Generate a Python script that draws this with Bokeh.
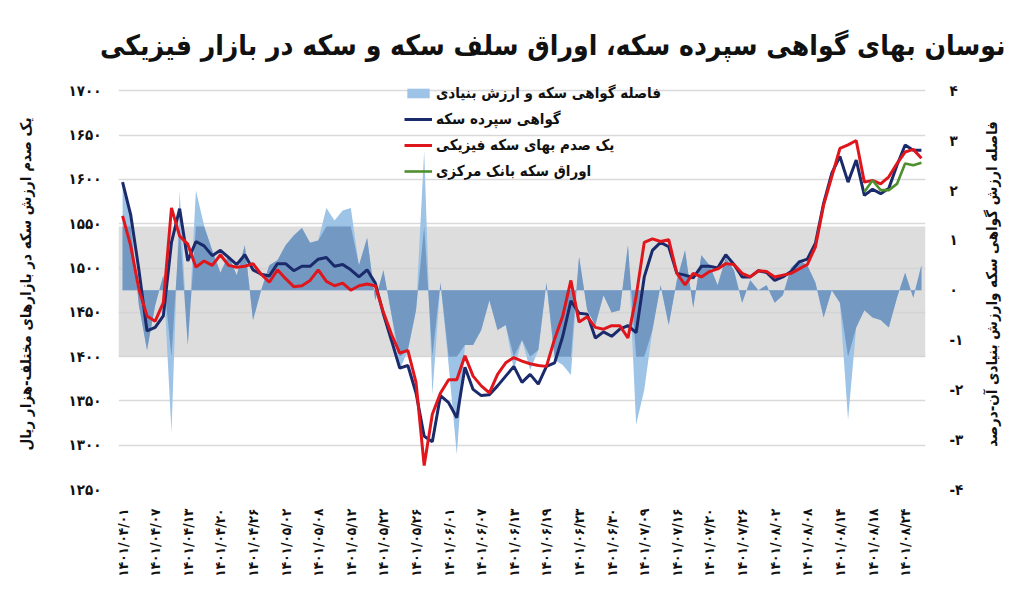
import numpy as np
from bokeh.plotting import figure
from bokeh.models import (Range1d, LinearAxis, FixedTicker, BoxAnnotation, Legend, LegendItem,
                          ColumnDataSource, Label)
from bokeh.layouts import column, row
from bokeh.embed import file_html
from bokeh.resources import INLINE

FA = str.maketrans("0123456789", "۰۱۲۳۴۵۶۷۸۹")
def fa(s):
    return str(s).translate(FA)

title_text = "نوسان بهای گواهی سپرده سکه، اوراق سلف سکه و سکه در بازار فیزیکی"
left_label = "یک صدم ارزش سکه در بازارهای مختلف-هزار ریال"
right_label = "فاصله ارزش گواهی سکه وارزش بنیادی آن-درصد"
series_names = ["فاصله گواهی سکه و ارزش بنیادی", "گواهی سپرده سکه",
                "یک صدم بهای سکه فیزیکی", "اوراق سکه بانک مرکزی"]

date_labels = ["1401/04/01", "1401/04/07", "1401/04/13", "1401/04/20", "1401/04/26",
               "1401/05/02", "1401/05/08", "1401/05/12", "1401/05/22", "1401/05/26",
               "1401/06/01", "1401/06/07", "1401/06/13", "1401/06/19", "1401/06/23",
               "1401/06/30", "1401/07/09", "1401/07/16", "1401/07/20", "1401/07/26",
               "1401/08/02", "1401/08/08", "1401/08/14", "1401/08/18", "1401/08/24"]
label_step = 4

certificate = [1597, 1560, 1498, 1429, 1433, 1446, 1529, 1567, 1508, 1530,
               1525, 1514, 1520, 1512, 1504, 1515, 1498, 1493, 1491, 1505,
               1505, 1497, 1502, 1502, 1510, 1512, 1502, 1504, 1498, 1490,
               1498, 1483, 1448, 1418, 1387, 1390, 1359, 1310, 1304, 1356,
               1348, 1331, 1388, 1363, 1356, 1357, 1367, 1378, 1389, 1371,
               1380, 1369, 1389, 1393, 1423, 1463, 1449, 1448, 1421, 1428,
               1423, 1431, 1435, 1427, 1490, 1520, 1529, 1524, 1494, 1492,
               1489, 1502, 1502, 1500, 1515, 1504, 1490, 1490, 1497, 1495,
               1486, 1490, 1496, 1507, 1510, 1528, 1573, 1607, 1626, 1597,
               1622, 1582, 1589, 1584, 1590, 1616, 1639, 1633, 1633]

physical = [1559, 1525, 1476, 1446, 1440, 1461, 1568, 1536, 1527, 1501,
            1508, 1503, 1515, 1503, 1501, 1502, 1505, 1493, 1484, 1498,
            1488, 1479, 1480, 1486, 1498, 1485, 1480, 1483, 1475, 1480,
            1482, 1480, 1450, 1425, 1404, 1407, 1371, 1277, 1335, 1359,
            1374, 1374, 1401, 1378, 1367, 1359, 1380, 1393, 1399, 1395,
            1392, 1390, 1389, 1420, 1446, 1486, 1439, 1445, 1433, 1431,
            1435, 1435, 1421, 1468, 1529, 1533, 1530, 1532, 1494, 1481,
            1494, 1490, 1496, 1499, 1505, 1504, 1494, 1490, 1497, 1496,
            1490, 1492, 1494, 1499, 1504, 1524, 1571, 1603, 1635, 1639,
            1644, 1597, 1599, 1595, 1603, 1618, 1631, 1634, 1624]

central_bank = [np.nan] * 91 + [1586, 1599, 1588, 1588, 1595, 1618, 1616, 1619]

gap = [2.2, 1.5, -0.3, -1.2, -0.3, 0.3, -2.85, 2.0, -1.1, 2.0,
       1.3, 0.8, 0.35, 0.7, 0.3, 0.9, -0.6, 0.0, 0.5, 0.6,
       0.9, 1.1, 1.25, 0.95, 1.0, 1.65, 1.4, 1.6, 1.65, 0.5,
       1.05, -0.2, 0.4, -0.5, -1.6, -1.2, -0.4, 2.8, -2.1, 0.15,
       -1.5, -3.3, -1.1, -1.1, -0.8, -0.2, -0.8, -0.7, -1.6, -1.0,
       -1.6, -1.2, 0.15, -1.4, -1.5, -1.7, 0.67, -0.4, -0.7, -0.1,
       -0.45, -0.4, 0.9, -2.7, -2.0, -0.8, 0.1, -0.7, 0.2, 0.8,
       -0.35, 0.7, 0.5, 0.1, 0.65, 0.4, -0.25, 0.2, 0.0, 0.1,
       -0.25, -0.1, 0.45, 0.6, 0.5, 0.15, -0.55, 0.0, -0.25, -2.6,
       -0.75, -0.4, -0.55, -0.6, -0.75, -0.15, 0.35, -0.15, 0.5]

left_ticks = [1250, 1300, 1350, 1400, 1450, 1500, 1550, 1600, 1650, 1700]
right_ticks = [-4, -3, -2, -1, 0, 1, 2, 3, 4]
band_bottom, band_top = 1400, 1547   # grey watermark band (left-axis units)

n = len(certificate)
x = list(range(n))
L0, L1 = 1250, 1700          # left axis span that matches right axis -4..4
R0, R1 = -4, 4
L_top = 1714                 # head-room above the 1700 line for the legend

def left_to_right(v):
    return R0 + (v - L0) * (R1 - R0) / (L1 - L0)

lo, hi = left_to_right(band_bottom), left_to_right(band_top)

src = ColumnDataSource(dict(x=x, cert=certificate, phys=physical, cb=central_bank,
                            gap=gap, zero=[0] * n,
                            gap_band=list(np.clip(np.array(gap), lo, hi))))

FONT = "'DejaVu Sans Condensed', 'DejaVu Sans'"
TOTAL_W, TITLE_H, MAIN_H, SIDE_W = 1008, 78, 511, 40

# ---------- title strip ----------
tf = figure(width=TOTAL_W, height=TITLE_H, x_range=Range1d(0, TOTAL_W), y_range=Range1d(0, TITLE_H),
            output_backend="svg", toolbar_location=None, title=None,
            x_axis_location=None, y_axis_location=None,
            min_border_left=0, min_border_right=0, min_border_top=0, min_border_bottom=0)
tf.outline_line_color = None
tf.xgrid.grid_line_color = None
tf.ygrid.grid_line_color = None
tf.add_layout(Label(x=TOTAL_W - 3, y=TITLE_H - 45, text=title_text, text_align="right",
                    text_baseline="middle", text_font=FONT, text_font_size="28px",
                    text_font_style="bold", text_color="#111111"))

# ---------- main plot ----------
p = figure(width=TOTAL_W - SIDE_W, height=MAIN_H, x_range=Range1d(-0.5, n - 0.5),
           y_range=Range1d(L0, L_top), output_backend="svg", toolbar_location=None, title=None,
           min_border_left=118, min_border_right=TOTAL_W - SIDE_W - 925,
           min_border_top=0, min_border_bottom=100)
p.extra_y_ranges = {"gap": Range1d(R0, left_to_right(L_top))}
p.outline_line_color = None
p.background_fill_color = "white"
p.border_fill_color = "white"

p.xgrid.grid_line_color = None
p.ygrid.grid_line_color = "#d9d9d9"
p.ygrid.grid_line_width = 1.3
p.ygrid.ticker = FixedTicker(ticks=left_ticks)

band = BoxAnnotation(bottom=band_bottom, top=band_top, fill_color="#d2d2d2", fill_alpha=0.75,
                     line_color=None, level="underlay")
p.add_layout(band)

r_area = p.varea(x="x", y1="zero", y2="gap", source=src, y_range_name="gap",
                 fill_color="#9dc3e6", fill_alpha=1.0)
p.varea(x="x", y1="zero", y2="gap_band", source=src, y_range_name="gap",
        fill_color="#7398c2", fill_alpha=1.0)
r_cert = p.line(x="x", y="cert", source=src, line_color="#1b2a6b", line_width=3)
r_phys = p.line(x="x", y="phys", source=src, line_color="#e0161d", line_width=3)
r_cb = p.line(x="x", y="cb", source=src, line_color="#4e8f2e", line_width=2.6)

xa = p.xaxis[0]
xa.ticker = FixedTicker(ticks=[i * label_step for i in range(len(date_labels))])
xa.major_label_overrides = {i * label_step: fa(d) for i, d in enumerate(date_labels)}
xa.major_label_orientation = np.pi / 2
xa.major_label_text_font = FONT
xa.major_label_text_font_size = "13.5px"
xa.major_label_text_font_style = "bold"
xa.major_label_text_color = "#111111"
xa.major_label_standoff = 13
xa.axis_line_color = None
xa.major_tick_line_color = None
xa.minor_tick_line_color = None

ya = p.yaxis[0]
ya.ticker = FixedTicker(ticks=left_ticks)
ya.major_label_overrides = {v: fa(v) for v in left_ticks}
ya.major_label_text_font = FONT
ya.major_label_text_font_size = "15px"
ya.major_label_text_font_style = "bold"
ya.major_label_text_color = "#111111"
ya.major_label_standoff = 11
ya.axis_line_color = None
ya.major_tick_line_color = None
ya.minor_tick_line_color = None
ya.axis_label = left_label
ya.axis_label_text_font = FONT
ya.axis_label_text_font_size = "15px"
ya.axis_label_text_font_style = "bold"
ya.axis_label_text_color = "#111111"
ya.axis_label_standoff = 31

ra = LinearAxis(y_range_name="gap", ticker=FixedTicker(ticks=right_ticks))
ra.major_label_overrides = {v: ("-" + fa(-v) if v < 0 else fa(v)) for v in right_ticks}
ra.major_label_text_font = FONT
ra.major_label_text_font_size = "15px"
ra.major_label_text_font_style = "bold"
ra.major_label_text_color = "#111111"
ra.major_label_standoff = 18
ra.axis_line_color = None
ra.major_tick_line_color = None
ra.minor_tick_line_color = None
p.add_layout(ra, "right")

legend = Legend(items=[LegendItem(label=series_names[0], renderers=[r_area]),
                       LegendItem(label=series_names[1], renderers=[r_cert]),
                       LegendItem(label=series_names[2], renderers=[r_phys]),
                       LegendItem(label=series_names[3], renderers=[r_cb])],
                location=(286, 308), orientation="vertical")
legend.background_fill_alpha = 0
legend.border_line_color = None
legend.label_text_font = FONT
legend.label_text_font_size = "15px"
legend.label_text_font_style = "bold"
legend.label_text_color = "#111111"
legend.glyph_width = 28
legend.glyph_height = 12
legend.label_height = 20
legend.spacing = 6
legend.padding = 0
legend.margin = 0
legend.label_standoff = 4
p.add_layout(legend, "center")

# ---------- right-hand axis title strip (reads bottom-to-top) ----------
p2 = figure(width=SIDE_W, height=MAIN_H, x_range=Range1d(0, 1), y_range=Range1d(R0, left_to_right(L_top)),
            output_backend="svg", toolbar_location=None, title=None,
            x_axis_location=None, y_axis_location="left",
            min_border_left=32, min_border_right=0, min_border_top=0, min_border_bottom=100)
p2.outline_line_color = None
p2.xgrid.grid_line_color = None
p2.ygrid.grid_line_color = None
ax2 = p2.yaxis[0]
ax2.ticker = FixedTicker(ticks=[])
ax2.major_label_text_font_size = "0px"
ax2.axis_line_color = None
ax2.major_tick_line_color = None
ax2.minor_tick_line_color = None
ax2.axis_label = right_label
ax2.axis_label_text_font = FONT
ax2.axis_label_text_font_size = "15px"
ax2.axis_label_text_font_style = "bold"
ax2.axis_label_text_color = "#111111"
ax2.axis_label_standoff = 0

layout = column(tf, row(p, p2))
open("out.html", "w").write(file_html(layout, INLINE))
